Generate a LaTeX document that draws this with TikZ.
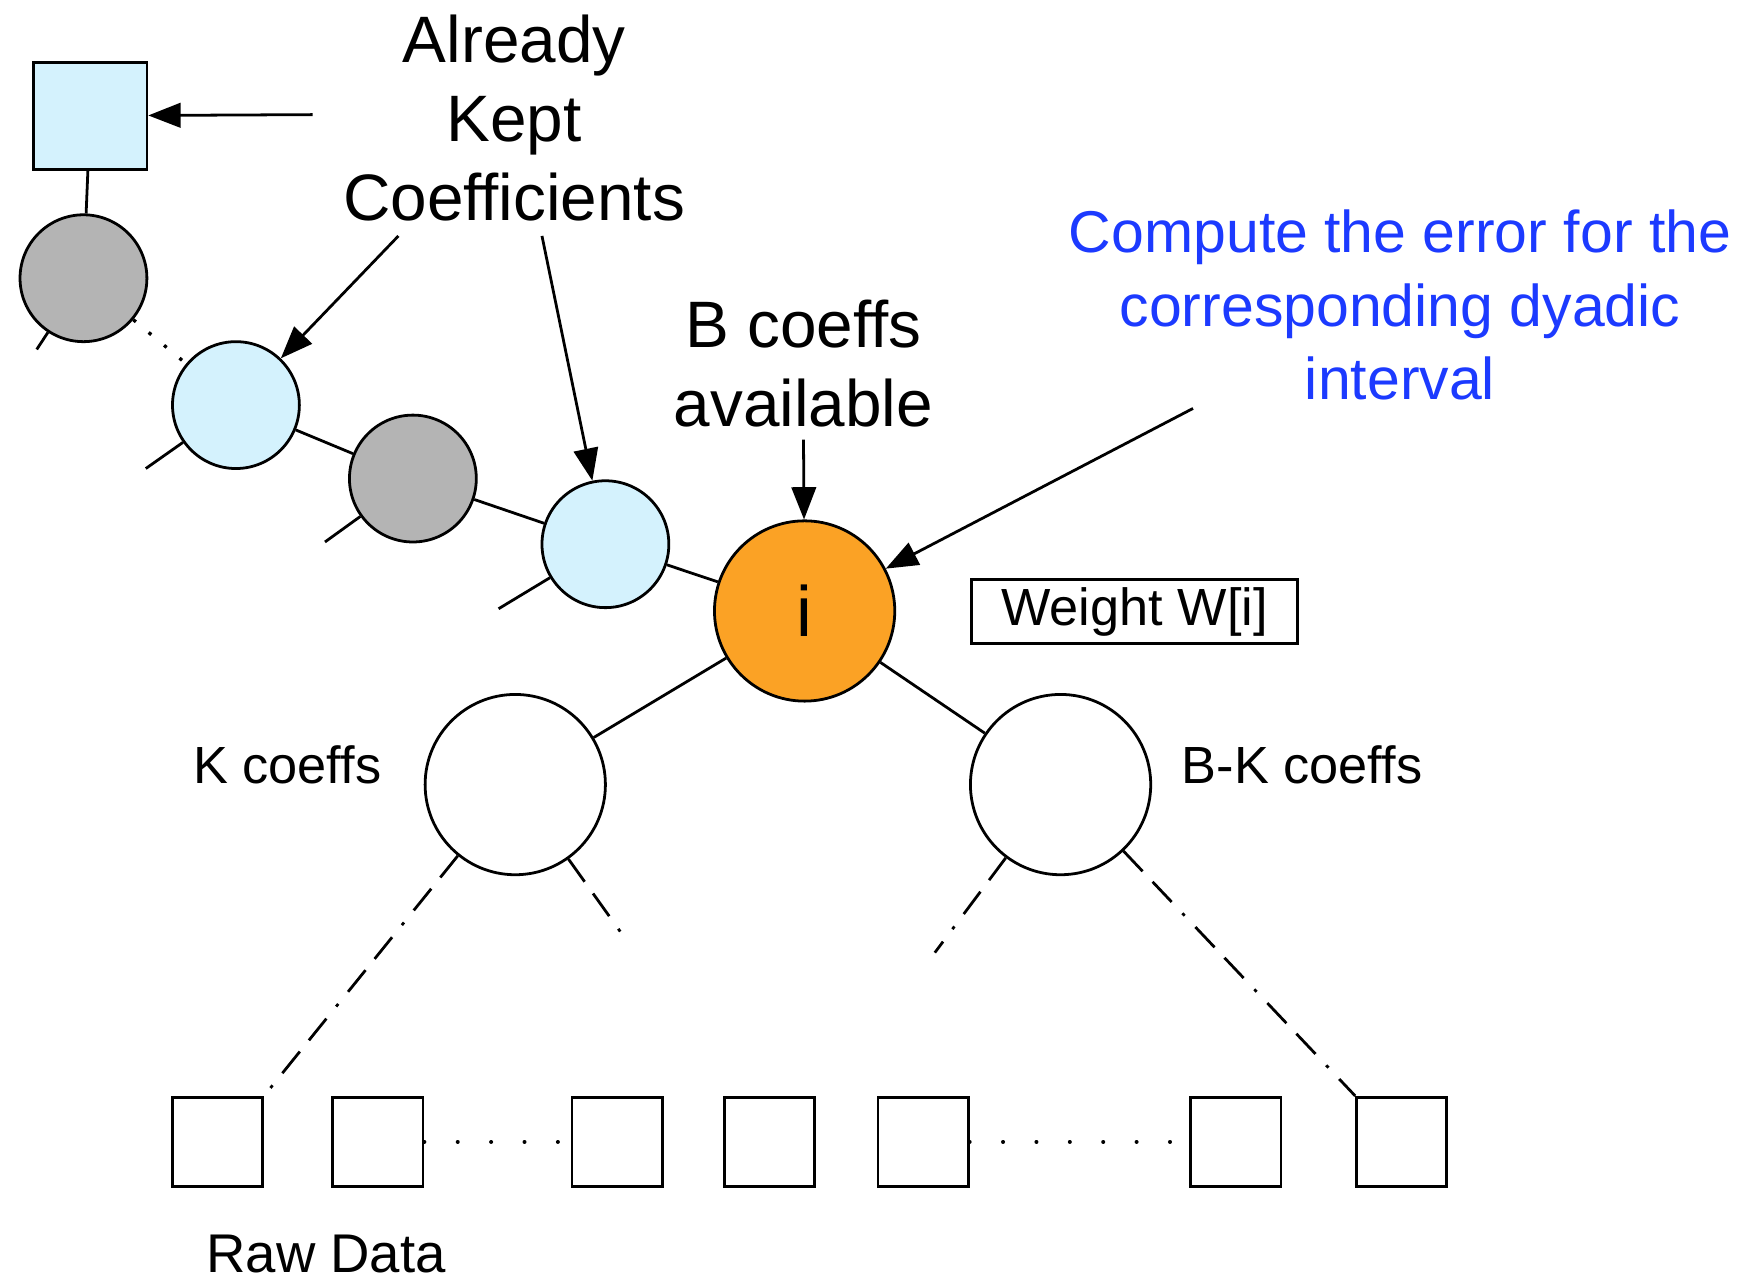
\documentclass[tikz,border=0pt]{standalone}
\usepackage{fontspec}
\setmainfont{Liberation Sans}
\usetikzlibrary{arrows.meta}

\definecolor{keptcyan}{RGB}{212,242,253}
\definecolor{skipgray}{RGB}{180,180,180}
\definecolor{curorange}{RGB}{251,162,37}
\definecolor{noteblue}{RGB}{28,58,255}

\tikzset{
  every picture/.style={line width=2.5pt},
  coef/.style={circle, draw, line width=2.5pt, minimum size=114pt, inner sep=0pt},
  bigcoef/.style={circle, draw, line width=2.5pt, minimum size=162pt, inner sep=0pt},
  cell/.style={rectangle, draw, line width=2.5pt, minimum width=81pt, minimum height=80pt, inner sep=0pt},
  pointer/.style={-{Triangle[length=29pt,width=22pt]}, line width=2.5pt},
  treeedge/.style={line width=2.5pt},
  dashdot/.style={line width=2.5pt, dash pattern=on 25pt off 13pt on 25pt off 14pt on 3pt off 14pt},
  gapdots/.style={line width=3.5pt, line cap=round, dash pattern=on 0.1pt off 29.9pt},
  bigtext/.style={font={\fontsize{59}{71}\selectfont}, align=center, inner sep=0pt},
  midtext/.style={font={\fontsize{47}{56}\selectfont}, inner sep=0pt},
}

\begin{document}
\begin{tikzpicture}[x=1pt, y=-1pt]
\useasboundingbox (0,0) rectangle (1568,1154);

% root coefficient and the path of ancestors
\node[rectangle, draw, fill=keptcyan, minimum width=102pt, minimum height=96pt, inner sep=0pt] (root) at (81,104) {};
\node[coef, fill=skipgray] (g1) at (75,250) {};
\node[coef, fill=keptcyan] (c2) at (212,364) {};
\node[coef, fill=skipgray] (g3) at (371,430) {};
\node[coef, fill=keptcyan] (c4) at (544,489) {};
\node[bigcoef, fill=curorange, font={\fontsize{64}{70}\selectfont}] (cur) at (723,549) {i};
\node[bigcoef, fill=white] (lc) at (463,705) {};
\node[bigcoef, fill=white] (rc) at (953,705) {};

\draw[treeedge] (root) -- (g1);
\draw[line width=3pt, dash pattern=on 3pt off 15pt] (g1) -- (c2);
\draw[treeedge] (c2) -- (g3);
\draw[treeedge] (g3) -- (c4);
\draw[treeedge] (c4) -- (cur);
\draw[treeedge] (cur) -- (lc);
\draw[treeedge] (cur) -- (rc);

% stubs towards the other children
\coordinate (s1) at (33,314);
\coordinate (s2) at (131,421);
\coordinate (s3) at (292,487);
\coordinate (s4) at (448,547);
\draw[treeedge] (g1) -- (s1);
\draw[treeedge] (c2) -- (s2);
\draw[treeedge] (g3) -- (s3);
\draw[treeedge] (c4) -- (s4);

% raw data cells
\node[cell] (d1) at (195.5,1026) {};
\node[cell] (d2) at (339.5,1026) {};
\node[cell] (d3) at (554.5,1026) {};
\node[cell] (d4) at (691.5,1026) {};
\node[cell] (d5) at (829.5,1026) {};
\node[cell] (d6) at (1110.5,1026) {};
\node[cell] (d7) at (1259.5,1026) {};
\draw[gapdots] (d2.east) -- (d3.west);
\draw[gapdots] (d5.east) -- (d6.west);

% subtrees below the children
\coordinate (lin) at (558,838);
\coordinate (rin) at (840,856);
\draw[dashdot] (lc) -- (d1.north east);
\draw[dashdot] (lc) -- (lin);
\draw[dashdot] (rc) -- (rin);
\draw[dashdot] (rc) -- (d7.north west);

% labels
\node[bigtext] (kept) at (462,106) {Already\\Kept\\Coefficients};
\node[bigtext] (avail) at (722,327) {B coeffs\\available};
\node[font={\fontsize{53}{66}\selectfont}, align=center, inner sep=0pt, text=noteblue] (note) at (1258,274) {Compute the error for the\\corresponding dyadic\\interval};
\node[midtext] (klab) at (258,687) {K coeffs};
\node[midtext] (bklab) at (1170,687) {B-K coeffs};
\node[midtext, draw, line width=2.5pt, minimum width=293pt, minimum height=57pt] (weight) at (1019.5,549.5) {Weight W[i]};
\node[font={\fontsize{49}{59}\selectfont}, inner sep=0pt] (raw) at (293,1127) {Raw Data};

% pointers
\coordinate (pk0) at (281,103);
\coordinate (pk1) at (358,212);
\coordinate (pk2) at (487,212);
\coordinate (pb) at (722,395);
\coordinate (pn) at (1072,367);
\draw[pointer] (pk0) -- (root);
\draw[pointer] (pk1) -- (c2);
\draw[pointer] (pk2) -- (c4);
\draw[pointer] (pb) -- (cur);
\draw[pointer] (pn) -- (cur);
\end{tikzpicture}
\end{document}
